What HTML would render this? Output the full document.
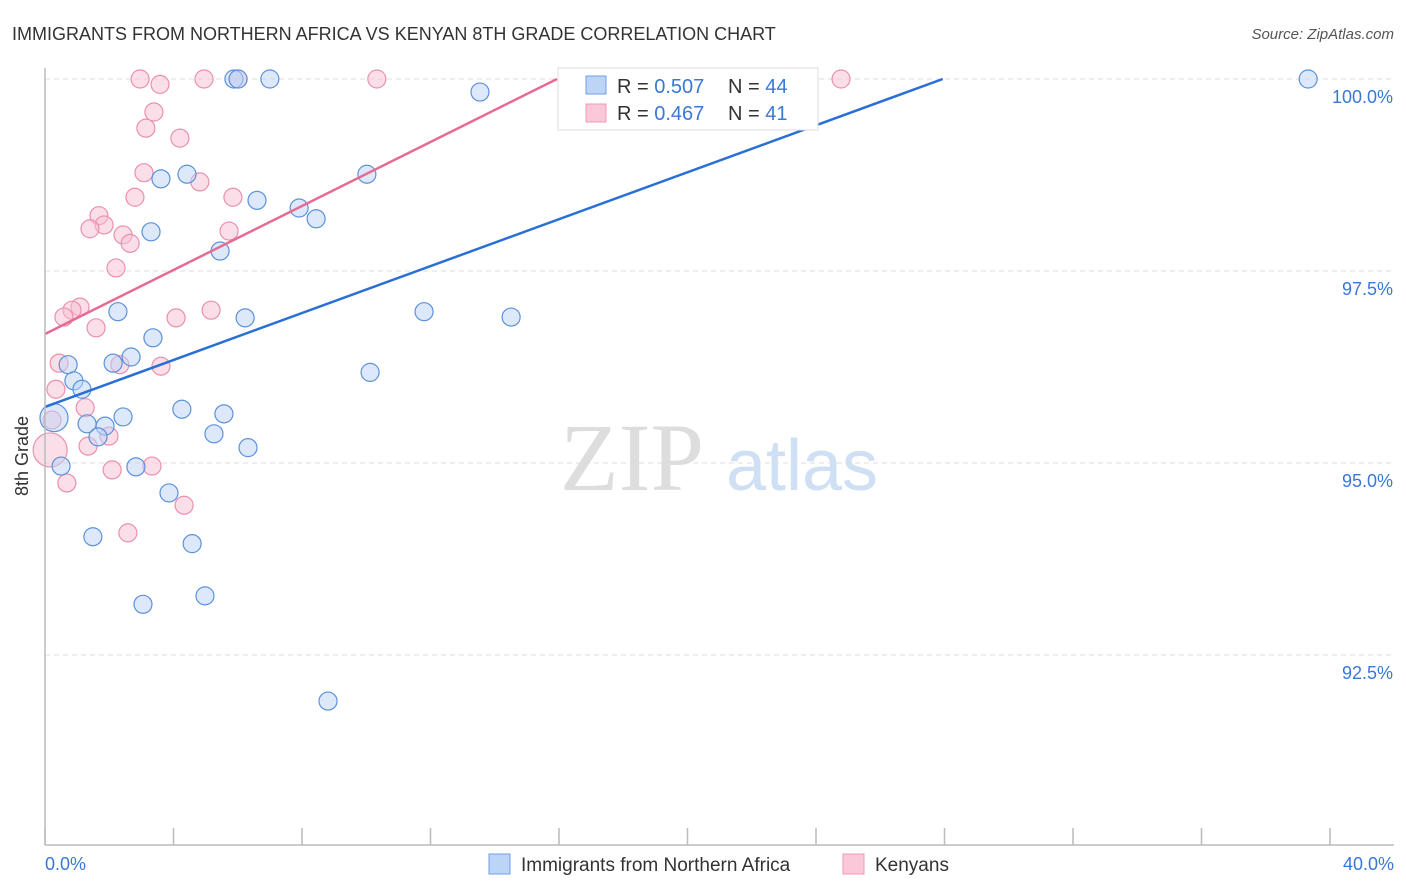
<!DOCTYPE html>
<html><head><meta charset="utf-8"><style>
body{margin:0;background:#fff;font-family:"Liberation Sans",sans-serif}
svg{display:block}
</style></head><body>
<svg id="c" width="1406" height="892">
<text x="12" y="40" font-size="18" fill="#333">IMMIGRANTS FROM NORTHERN AFRICA VS KENYAN 8TH GRADE CORRELATION CHART</text>
<text x="1394" y="39" font-size="15" fill="#555" font-style="italic" text-anchor="end">Source: ZipAtlas.com</text>
<text x="632" y="490" font-size="96" fill="#ddd" font-family="Liberation Serif" text-anchor="middle">ZIP</text>
<text x="802" y="490" font-size="72" fill="#cfe0f5" text-anchor="middle">atlas</text>
<g id="grid"></g><g id="pts"></g><g id="trend"></g>
<line x1="45" y1="68" x2="45" y2="845" stroke="#bbb" stroke-width="1.5"/>
<line x1="45" y1="845" x2="1394" y2="845" stroke="#bbb" stroke-width="1.5"/>
<text x="28" y="456" font-size="18" fill="#333" transform="rotate(-90 28 456)" text-anchor="middle">8th Grade</text>
<text x="45" y="870" font-size="18" fill="#3a78d6">0.0%</text>
<text x="1394" y="870" font-size="18" fill="#3a78d6" text-anchor="end">40.0%</text>
<g>
<rect x="558" y="68" width="260" height="62" fill="#fff" stroke="#ddd"/>
<rect x="586" y="76" width="20" height="18" fill="#bcd4f5" stroke="#6fa0e6"/>
<rect x="586" y="104" width="20" height="18" fill="#fac8d8" stroke="#f09ab6"/>
<text x="617" y="93" font-size="20" fill="#333">R = <tspan fill="#3a78d6">0.507</tspan><tspan x="728">N = </tspan><tspan fill="#3a78d6">44</tspan></text>
<text x="617" y="120" font-size="20" fill="#333">R = <tspan fill="#3a78d6">0.467</tspan><tspan x="728">N = </tspan><tspan fill="#3a78d6"> 41</tspan></text>
</g>
<g>
<rect x="489" y="854" width="21" height="20" fill="#bcd4f5" stroke="#6fa0e6"/>
<text x="521" y="871" font-size="19" fill="#333">Immigrants from Northern Africa</text>
<rect x="843" y="854" width="21" height="20" fill="#fac8d8" stroke="#f09ab6"/>
<text x="875" y="871" font-size="19" fill="#333">Kenyans</text>
</g>
</svg>
<script>
const yTicks=[100,97.5,95,92.5];
const yTickLabels=["100.0%","97.5%","95.0%","92.5%"];
const xTicks=[0,4,8,12,16,20,24,28,32,36,40];
const blueX=[5.88,6.01,7.00,13.54,39.32,4.42,3.61,10.02,6.60,7.91,8.44,3.30,5.45,2.27,6.23,11.80,14.51,3.36,2.68,2.12,0.72,10.12,0.90,1.15,0.28,4.26,2.43,5.57,1.31,1.87,1.65,5.26,6.32,0.50,2.83,3.86,1.49,4.58,3.05,4.98,8.81];
const blueY=[100,100,100,99.83,100,98.76,98.70,98.76,98.42,98.32,98.18,98.01,97.76,96.97,96.89,96.97,96.90,96.63,96.38,96.30,96.28,96.18,96.07,95.96,95.59,95.70,95.60,95.64,95.51,95.48,95.34,95.38,95.20,94.96,94.95,94.61,94.04,93.95,93.16,93.27,91.90];
const blueBig=[24];
const pinkX=[2.96,3.58,4.95,6.01,10.33,24.78,3.39,3.14,4.20,3.08,4.82,2.80,5.85,1.68,1.84,1.40,2.43,2.65,5.73,2.21,1.09,0.84,0.59,4.08,5.17,1.59,0.44,2.33,3.61,0.34,1.25,1.99,1.34,2.09,3.33,0.68,4.33,2.58,0.16,0.22];
const pinkY=[100,99.93,100,100,100,100,99.57,99.36,99.23,98.78,98.66,98.46,98.46,98.22,98.10,98.05,97.97,97.86,98.02,97.54,97.03,96.99,96.90,96.89,96.99,96.76,96.30,96.28,96.26,95.96,95.72,95.35,95.22,94.91,94.96,94.74,94.45,94.09,95.17,95.56];
const pinkBig=[38];
const trendIntercept=[95.73,96.68];
const trendSlope=[0.1528,0.2083];
const NS="http://www.w3.org/2000/svg";
const X=v=>45+v*32.125, Y=v=>79+(100-v)*76.8;
function mk(t,a,p){const e=document.createElementNS(NS,t);for(const k in a)e.setAttribute(k,a[k]);p.appendChild(e);return e;}
const grid=document.getElementById('grid'),pts=document.getElementById('pts'),tr=document.getElementById('trend');
yTicks.forEach((v,i)=>{
 const l=mk('line',{x1:45,x2:1394,y1:Y(v),y2:Y(v),stroke:'#ddd','stroke-dasharray':'5,4'},grid);
 
 
 const t=mk('text',{x:1393,y:Y(v)+24,'font-size':18,fill:'#3a78d6','text-anchor':'end'},grid);
 t.textContent=yTickLabels[i];
 
 
});
xTicks.forEach(v=>{
 const l=mk('line',{x1:X(v),x2:X(v),y1:828,y2:845,stroke:'#bbb','stroke-width':1.5},grid);
 
 
});
function series(xs,ys,big,rb,fill,stroke,name){
 xs.forEach((x,i)=>{
  const c=mk('circle',{cx:X(x),cy:Y(ys[i]),r:big.includes(i)?rb:9,fill:fill,'fill-opacity':0.5,stroke:stroke,'stroke-width':1.2},pts);
  
  
 });
}
series(pinkX,pinkY,pinkBig,17,'#f8c0d2','#ec8fae','kenyans-point');
series(blueX,blueY,blueBig,14,'#bcd4f5','#5b91dd','immigrants-point');
const cols=['#2a6fd6','#e86a93'];
trendIntercept.forEach((b,i)=>{
 const xe=Math.min(40,(100-b)/trendSlope[i]);
 const l=mk('line',{x1:X(0),y1:Y(b),x2:X(xe),y2:Y(b+trendSlope[i]*xe),stroke:cols[i],'stroke-width':2.5},tr);
 
 
});
</script>
</body></html>
